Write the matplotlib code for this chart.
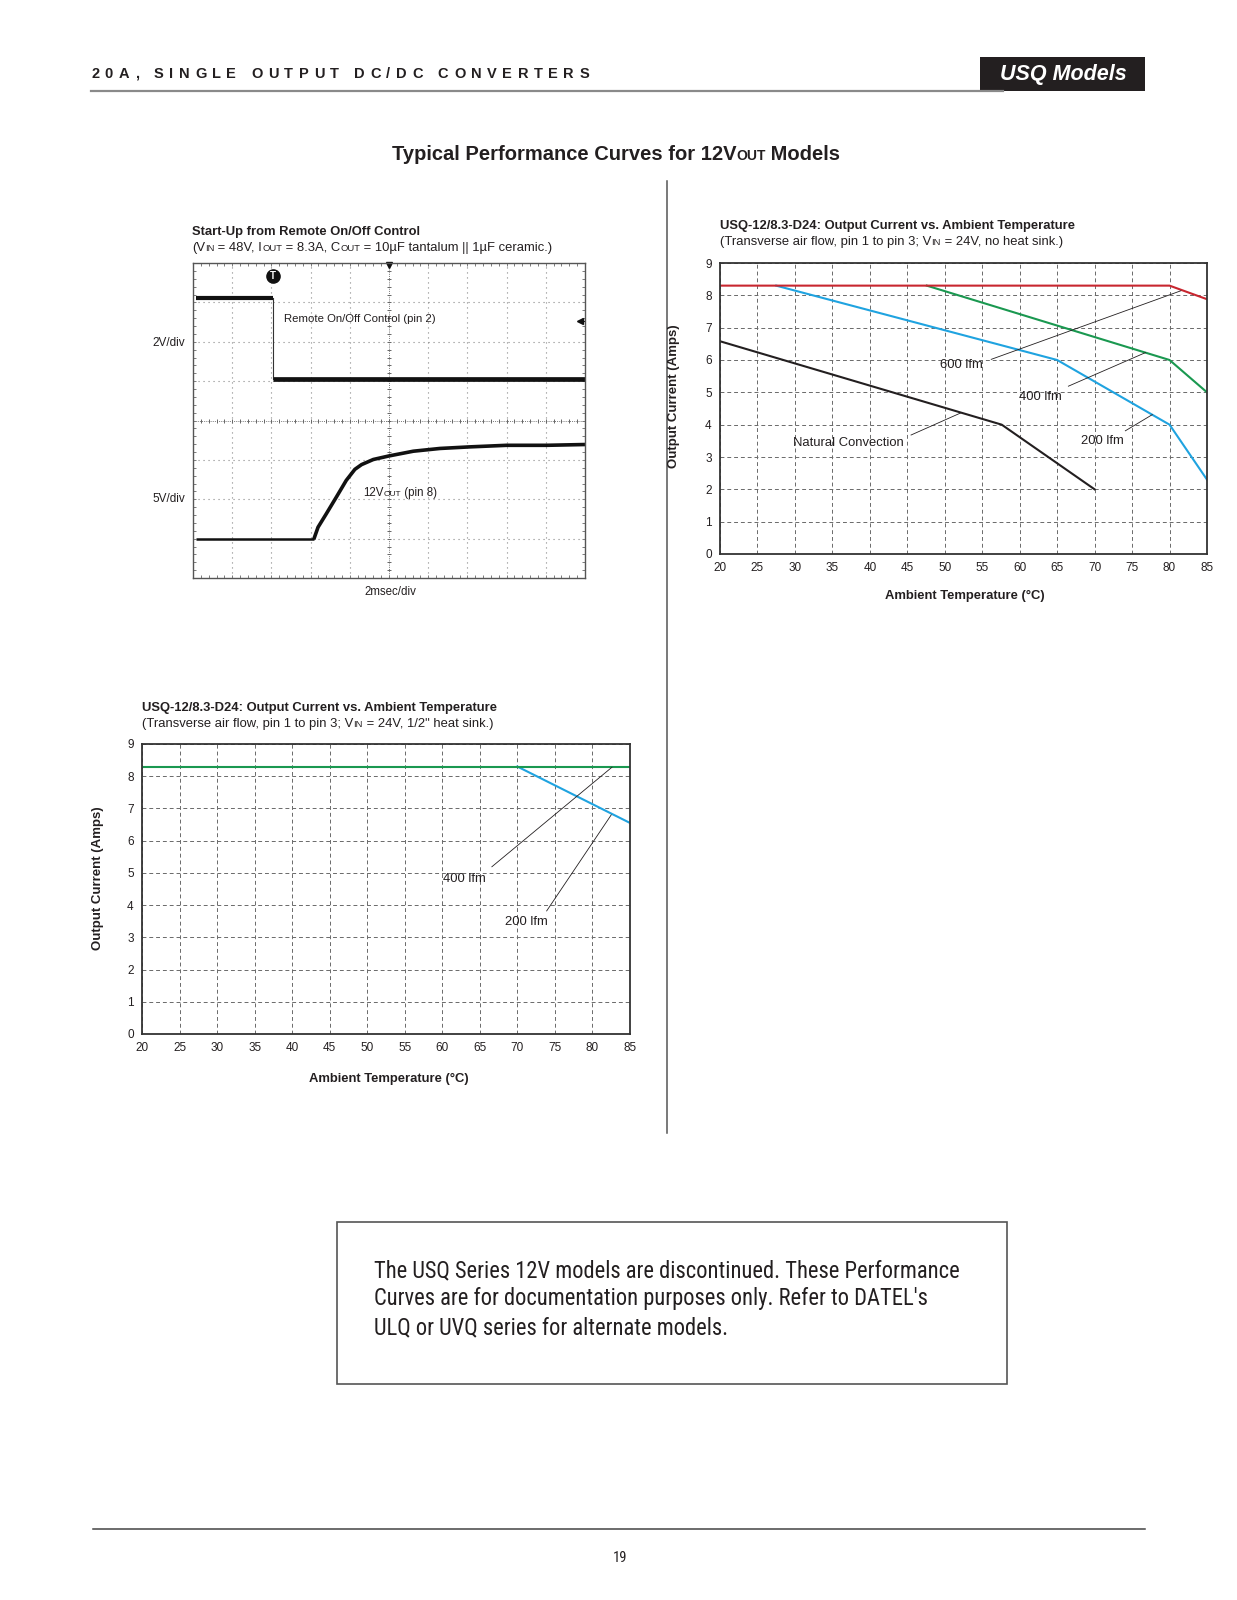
import numpy as np
import matplotlib
matplotlib.use('Agg')
import matplotlib.pyplot as plt

plt.rcParams['font.family'] = ['Liberation Sans', 'DejaVu Sans']

W, H, DPI = 1237, 1600, 100

# ---------------- data ----------------
# scope traces, in divisions (10 x 8 graticule)
ctrl_x = [0.07, 2.03, 2.03, 10.0]
ctrl_y = [7.10, 7.10, 5.06, 5.06]
vout_x = [0.07, 3.08, 3.19, 3.40, 3.66, 3.91, 4.13, 4.30, 4.60, 5.00, 5.62, 6.30, 7.06, 8.00, 9.02, 10.0]
vout_y = [0.98, 0.98, 1.29, 1.63, 2.06, 2.48, 2.76, 2.88, 3.01, 3.10, 3.22, 3.29, 3.33, 3.37, 3.37, 3.39]

temp_ticks = [20, 25, 30, 35, 40, 45, 50, 55, 60, 65, 70, 75, 80, 85]
amp_ticks = [0, 1, 2, 3, 4, 5, 6, 7, 8, 9]

# no heat sink
nc_x, nc_y = [20, 57.6, 70], [6.58, 4.0, 2.0]
l200_x, l200_y = [27.5, 65, 80, 85], [8.3, 6.0, 4.0, 2.3]
l400_x, l400_y = [47.6, 80, 85], [8.3, 6.0, 5.0]
l600_x, l600_y = [20, 80, 85], [8.3, 8.3, 7.88]

# 1/2" heat sink
hs400_x, hs400_y = [20, 85], [8.3, 8.3]
hs200_x, hs200_y = [70, 85], [8.3, 6.55]

INK = '#231f20'
RED, BLUE, GREEN = '#c8262f', '#1fa3e0', '#1a9850'
NARROW = ['Roboto Condensed', 'Roboto', 'Liberation Sans', 'DejaVu Sans']

# ---------------- figure ----------------
fig = plt.figure(figsize=(W / DPI, H / DPI), dpi=DPI)
page = fig.add_axes([0, 0, 1, 1])
page.set_xlim(0, W)
page.set_ylim(H, 0)
page.axis('off')
page.patch.set_visible(False)
page.set_zorder(10)
r = fig.canvas.get_renderer()


def fax(x0, y0, x1, y1):
    a = fig.add_axes([x0 / W, 1 - y1 / H, (x1 - x0) / W, (y1 - y0) / H])
    a.patch.set_facecolor('none')
    return a


def twidth(s, **kw):
    t1 = page.text(0, 0, '|' + s + '|', **kw)
    t2 = page.text(0, 0, '||', **kw)
    w = t1.get_window_extent(renderer=r).width - t2.get_window_extent(renderer=r).width
    t1.remove(); t2.remove()
    return w


def rich(x, y, pieces, ha='left'):
    ws = [twidth(s, **kw) for s, kw in pieces]
    cur = x - sum(ws) / 2 if ha == 'center' else x
    for (s, kw), w in zip(pieces, ws):
        page.text(cur, y, s, va='baseline', ha='left', **kw)
        cur += w


def tracked(x, y, s, width, **kw):
    ws = [twidth(c, **kw) for c in s]
    trk = (width - sum(ws)) / (len(s) - 1)
    cur = x
    for c, w in zip(s, ws):
        page.text(cur, y, c, va='baseline', ha='left', **kw)
        cur += w + trk


# ---------------- page header ----------------
tracked(91, 77.5, '20A, SINGLE OUTPUT DC/DC CONVERTERS', 498,
        fontsize=10.5, fontweight='bold', color=INK)
page.plot([91, 1003], [91, 91], color='#8a8a8a', lw=1.6)
page.add_patch(plt.Rectangle((980, 57), 165, 34, color=INK, lw=0))
page.text(1063, 74.5, 'USQ Models', color='white', fontsize=15.5, fontweight='heavy',
          fontstyle='italic', ha='center', va='center')

rich(616, 160, [('Typical Performance Curves for 12V', dict(fontsize=14.5, fontweight='bold', color=INK)),
                ('OUT', dict(fontsize=10, fontweight='bold', color=INK)),
                (' Models', dict(fontsize=14.5, fontweight='bold', color=INK))], ha='center')

page.plot([666.5, 666.5], [181, 1133], color='#555', lw=1.1)

# ---------------- scope panel ----------------
FS = 9.4
big = dict(fontsize=FS, color=INK)
sml = dict(fontsize=FS * 0.72, color=INK)
page.text(192, 235.5, 'Start-Up from Remote On/Off Control', fontsize=FS, fontweight='bold',
          color=INK, va='baseline')
rich(192, 251, [('(V', big), ('IN', sml), (' = 48V, I', big), ('OUT', sml), (' = 8.3A, C', big),
                ('OUT', sml), (' = 10µF tantalum || 1µF ceramic.)', big)])

sc = fax(193, 263, 585, 578)
sc.set_xlim(0, 10)
sc.set_ylim(0, 8)
sc.set_xticks([])
sc.set_yticks([])
sc.set_xticks(np.arange(0, 10.01, 0.2), minor=True)
sc.set_yticks(np.arange(0, 8.01, 0.2), minor=True)
sc.tick_params(which='minor', direction='in', length=2.5, width=0.6, color='#666',
               top=True, right=True, bottom=True, left=True)
for s in sc.spines.values():
    s.set_color('#555')
    s.set_linewidth(1.0)
for gx in range(1, 10):
    if gx != 5:
        sc.axvline(gx, color='#888', lw=0.8, ls=(0, (1, 3.5)))
for gy in range(1, 8):
    if gy != 4:
        sc.axhline(gy, color='#888', lw=0.8, ls=(0, (1, 3.5)))
sc.axvline(5, color='#777', lw=0.7, ls=(0, (1, 1.2)))
sc.axhline(4, color='#777', lw=0.7, ls=(0, (1, 1.2)))
ty = np.arange(0.2, 8, 0.2)
tx = np.arange(0.2, 10, 0.2)
sc.plot(np.full_like(ty, 5.0), ty, ls='none', marker='_', ms=3.5, mew=0.7, color='#666')
sc.plot(tx, np.full_like(tx, 4.0), ls='none', marker='|', ms=3.5, mew=0.7, color='#666')

sc.plot(ctrl_x[:2], ctrl_y[:2], color='#111', lw=3.0, solid_capstyle='butt')
sc.plot(ctrl_x[1:3], ctrl_y[1:3], color='#333', lw=0.8)
sc.plot(ctrl_x[2:], ctrl_y[2:], color='#111', lw=3.4, solid_capstyle='butt')
sc.plot(vout_x[:2], vout_y[:2], color='#111', lw=1.8, solid_capstyle='butt')
sc.plot(vout_x[1:], vout_y[1:], color='#111', lw=2.6, solid_capstyle='butt')

sc.plot([2.03], [7.67], marker='o', ms=9.5, color='#111', ls='none', clip_on=False)
sc.text(2.03, 7.66, 'T', color='white', fontsize=7, fontweight='bold', ha='center', va='center')
sc.plot([5], [7.94], marker='v', ms=5, color='#111', ls='none', clip_on=False)
sc.plot([9.87], [6.52], marker='<', ms=4.5, color='#111', ls='none')
sc.plot([9.87, 10], [6.52, 6.52], color='#111', lw=0.8)

page.text(284, 319, 'Remote On/Off Control (pin 2)', fontsize=8.2, color=INK, va='center')
rich(363, 496, [('12V', dict(fontsize=8.3, color=INK)), ('OUT', dict(fontsize=6, color=INK)),
                (' (pin 8)', dict(fontsize=8.3, color=INK))])
page.text(185, 343, '2V/div', fontsize=8.5, color=INK, ha='right', va='center')
page.text(185, 499, '5V/div', fontsize=8.5, color=INK, ha='right', va='center')
page.text(390, 592, '2msec/div', fontsize=8.3, color=INK, ha='center', va='center')


# ---------------- derating charts ----------------
def derate_axes(x0, y0, x1, y1):
    ax = fax(x0, y0, x1, y1)
    ax.set_xlim(20, 85)
    ax.set_ylim(0, 9)
    ax.set_xticks(temp_ticks)
    ax.set_yticks(amp_ticks)
    ax.tick_params(length=0, labelsize=8.5, pad=6, colors=INK)
    ax.grid(True, color='#6a6a6a', lw=0.7, ls=(0, (4, 3)))
    ax.set_axisbelow(True)
    for s in ax.spines.values():
        s.set_color('#333')
        s.set_linewidth(1.3)
    return ax


def lead(ax, p0, p1):
    ax.plot([p0[0], p1[0]], [p0[1], p1[1]], color=INK, lw=0.6)


# right chart (no heat sink)
page.text(720, 229.5, 'USQ-12/8.3-D24: Output Current vs. Ambient Temperature', fontsize=FS,
          fontweight='bold', color=INK, va='baseline')
rich(720, 245, [('(Transverse air flow, pin 1 to pin 3; V', big), ('IN', sml),
                (' = 24V, no heat sink.)', big)])
ar = derate_axes(720, 263, 1207, 554)
ar.plot(nc_x, nc_y, color=INK, lw=1.5)
ar.plot(l200_x, l200_y, color=BLUE, lw=1.5)
ar.plot(l400_x, l400_y, color=GREEN, lw=1.5)
ar.plot(l600_x, l600_y, color=RED, lw=1.5)
lead(ar, (56.2, 6.02), (81.5, 8.14))
lead(ar, (66.5, 5.19), (76.8, 6.23))
lead(ar, (74.1, 3.81), (77.7, 4.31))
lead(ar, (45.5, 3.68), (52.2, 4.37))
ar.text(52.2, 5.84, '600 lfm', fontsize=FS, color=INK, ha='center', va='center')
ar.text(62.7, 4.87, '400 lfm', fontsize=FS, color=INK, ha='center', va='center')
ar.text(71.0, 3.50, '200 lfm', fontsize=FS, color=INK, ha='center', va='center')
ar.text(37.1, 3.43, 'Natural Convection', fontsize=FS, color=INK, ha='center', va='center')
page.text(965, 596, 'Ambient Temperature (°C)', fontsize=FS, fontweight='bold', color=INK,
          ha='center', va='center')
page.text(674, 396, 'Output Current (Amps)', fontsize=9.5, fontweight='bold', color=INK,
          ha='center', va='center', rotation=90)

# left chart (1/2" heat sink)
page.text(142, 711, 'USQ-12/8.3-D24: Output Current vs. Ambient Temperature', fontsize=FS,
          fontweight='bold', color=INK, va='baseline')
rich(142, 727, [('(Transverse air flow, pin 1 to pin 3; V', big), ('IN', sml),
                (' = 24V, 1/2" heat sink.)', big)])
al = derate_axes(142, 744, 630, 1034)
al.plot(hs200_x, hs200_y, color=BLUE, lw=1.5)
al.plot(hs400_x, hs400_y, color=GREEN, lw=1.5)
lead(al, (66.6, 5.19), (82.6, 8.28))
lead(al, (73.9, 3.82), (82.5, 6.80))
al.text(62.9, 4.82, '400 lfm', fontsize=FS, color=INK, ha='center', va='center')
al.text(71.2, 3.49, '200 lfm', fontsize=FS, color=INK, ha='center', va='center')
page.text(389, 1079, 'Ambient Temperature (°C)', fontsize=FS, fontweight='bold', color=INK,
          ha='center', va='center')
page.text(98, 878, 'Output Current (Amps)', fontsize=9.5, fontweight='bold', color=INK,
          ha='center', va='center', rotation=90)

# ---------------- note box ----------------
page.add_patch(plt.Rectangle((337, 1222), 670, 162, fill=False, edgecolor='#555', lw=1.2))
note = ["The USQ Series 12V models are discontinued. These Performance",
        "Curves are for documentation purposes only. Refer to DATEL's",
        "ULQ or UVQ series for alternate models."]
nkw = dict(color=INK, family=NARROW, fontweight='normal')
w16 = twidth(note[0], fontsize=16, **nkw)
nfs = 16 * 588 / w16
for i, line in enumerate(note):
    page.text(373.5, 1277 + i * 28.5, line, fontsize=nfs, va='baseline', **nkw)

# ---------------- footer ----------------
page.plot([93, 1145], [1529, 1529], color='#444', lw=1.1)
page.text(620, 1558, '19', fontsize=10.5, color=INK, ha='center', va='center', family=NARROW)

fig.savefig('out.png', dpi=DPI)
